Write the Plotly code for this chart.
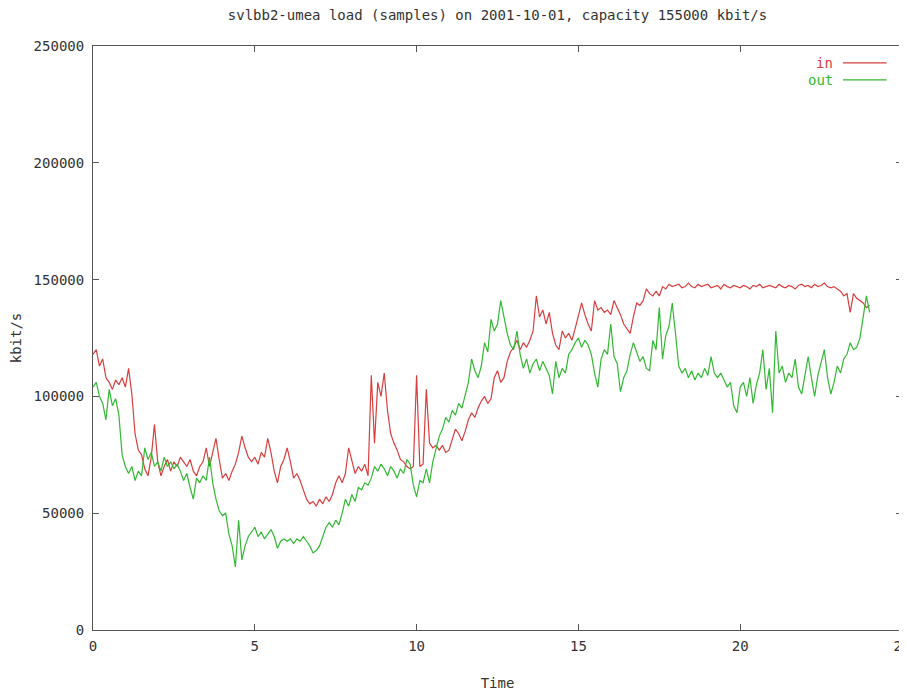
import numpy as np
import plotly.graph_objects as go

# Time axis: samples every 0.1 h from 0 to 24 h
hours = np.round(np.arange(0, 24.05, 0.1), 1)

load_in = [
    118000, 120000, 113000, 116000, 108000, 106000, 103000, 107000, 105000, 108000,
    104000, 112000, 101000, 84000, 77000, 75000, 69000, 66000, 74000, 88000,
    72000, 66000, 70000, 73000, 68000, 72000, 70000, 74000, 72000, 70000,
    73000, 68000, 66000, 70000, 72000, 78000, 70000, 76000, 82000, 73000,
    65000, 67000, 64000, 68000, 71000, 76000, 83000, 78000, 74000, 72000,
    74000, 71000, 76000, 74000, 82000, 76000, 68000, 63000, 70000, 73000,
    78000, 72000, 65000, 67000, 64000, 60000, 56000, 54000, 55000, 53000,
    56000, 54000, 57000, 55000, 58000, 63000, 66000, 63000, 67000, 78000,
    72000, 67000, 70000, 68000, 71000, 66000, 109000, 80000, 106000, 100000,
    110000, 94000, 84000, 80000, 77000, 73000, 72000, 70000, 69000, 70000,
    109000, 70000, 71000, 103000, 80000, 78000, 79000, 77000, 79000, 76000,
    77000, 82000, 86000, 84000, 81000, 85000, 90000, 93000, 91000, 95000,
    98000, 100000, 97000, 99000, 108000, 111000, 106000, 108000, 115000, 119000,
    121000, 124000, 120000, 123000, 121000, 124000, 128000, 143000, 134000, 137000,
    131000, 136000, 127000, 122000, 120000, 128000, 125000, 127000, 124000, 129000,
    134000, 140000, 135000, 131000, 128000, 141000, 137000, 138000, 136000, 137000,
    135000, 141000, 138000, 135000, 131000, 129000, 127000, 134000, 140000, 139000,
    141000, 146000, 144000, 143000, 145000, 143000, 147000, 146000, 148000, 147000,
    147500, 148000, 146500, 147000, 148500, 147000, 146500, 148000, 147000, 147500,
    148000, 146500, 147000, 147500, 146000, 148000, 147000, 146500, 147500, 147000,
    146500, 147500, 147000, 146000, 147500, 147000, 148000, 146500, 147000, 147500,
    147000, 146500, 148000, 147000, 146500, 147500, 147000, 146000, 147500, 148000,
    147000, 147500, 146500, 148000, 147000, 147500, 148500, 147000, 146500, 147000,
    146000, 145000, 143000, 144000, 136000, 144000, 142000, 141000, 140000, 138000,
    139000,
]

load_out = [
    104000, 106000, 100000, 97000, 90000, 103000, 96000, 99000, 92000, 75000,
    70000, 67000, 70000, 64000, 68000, 66000, 78000, 73000, 76000, 70000,
    72000, 68000, 74000, 70000, 72000, 69000, 71000, 68000, 64000, 67000,
    61000, 56000, 65000, 63000, 66000, 64000, 74000, 63000, 56000, 51000,
    49000, 50000, 41000, 36000, 27000, 47000, 30000, 36000, 40000, 42000,
    44000, 40000, 42000, 39000, 41000, 43000, 40000, 35000, 38000, 39000,
    38000, 39000, 37000, 39000, 38000, 40000, 38000, 36000, 33000, 34000,
    36000, 40000, 44000, 46000, 44000, 47000, 45000, 50000, 56000, 53000,
    58000, 55000, 61000, 60000, 63000, 62000, 65000, 70000, 68000, 71000,
    69000, 66000, 70000, 68000, 65000, 69000, 67000, 73000, 71000, 62000,
    57000, 64000, 63000, 69000, 63000, 72000, 78000, 83000, 86000, 91000,
    89000, 94000, 92000, 97000, 95000, 101000, 106000, 116000, 111000, 108000,
    113000, 123000, 119000, 133000, 128000, 131000, 141000, 134000, 127000, 122000,
    120000, 128000, 118000, 112000, 116000, 110000, 114000, 116000, 111000, 115000,
    112000, 109000, 101000, 115000, 108000, 112000, 110000, 118000, 120000, 123000,
    125000, 121000, 124000, 122000, 118000, 110000, 104000, 116000, 120000, 118000,
    131000, 117000, 114000, 102000, 108000, 111000, 118000, 123000, 119000, 115000,
    117000, 112000, 111000, 124000, 120000, 138000, 116000, 126000, 130000, 140000,
    127000, 113000, 110000, 112000, 108000, 111000, 107000, 110000, 108000, 112000,
    109000, 117000, 110000, 108000, 110000, 107000, 104000, 106000, 96000, 93000,
    104000, 106000, 100000, 108000, 97000, 105000, 110000, 120000, 103000, 112000,
    93000, 128000, 110000, 113000, 106000, 110000, 108000, 116000, 104000, 101000,
    110000, 117000, 108000, 100000, 109000, 114000, 120000, 108000, 101000, 106000,
    113000, 110000, 116000, 118000, 123000, 120000, 121000, 125000, 134000, 143000,
    136000,
]

x_ticks = [0, 5, 10, 15, 20, 25]
y_ticks = [0, 50000, 100000, 150000, 200000, 250000]

RED = "#d83e3e"
GREEN = "#33b833"
FONT = "DejaVu Sans Mono"
TXT = "#333333"
AX = "#555555"
FS = 14

fig = go.Figure()
fig.add_trace(go.Scatter(x=hours, y=load_in, mode="lines", name="in",
                         line=dict(color=RED, width=1.2), showlegend=False))
fig.add_trace(go.Scatter(x=hours, y=load_out, mode="lines", name="out",
                         line=dict(color=GREEN, width=1.2), showlegend=False))

axis_common = dict(showline=True, linecolor=AX, linewidth=1, mirror="allticks",
                   ticks="inside", ticklen=6, tickcolor=AX, showgrid=False,
                   zeroline=False, ticklabeloverflow="allow", automargin=False,
                   tickfont=dict(family=FONT, size=FS, color=TXT))

fig.update_xaxes(range=[0, 25], tickvals=x_ticks, ticktext=[str(v) for v in x_ticks],
                 ticklabelstandoff=3,
                 title=dict(text="Time", font=dict(family=FONT, size=FS, color=TXT), standoff=26),
                 **axis_common)
fig.update_yaxes(range=[0, 250000], tickvals=y_ticks, ticktext=[str(v) for v in y_ticks],
                 ticklabelstandoff=5,
                 title=dict(text="kbit/s", font=dict(family=FONT, size=FS, color=TXT), standoff=16),
                 **axis_common)

# gnuplot-style key: text right-aligned, line sample to the right
key = [("in", RED, 0.971), ("out", GREEN, 0.942)]
for label, col, yy in key:
    fig.add_annotation(x=0.917, y=yy, xref="paper", yref="paper", text=label,
                       showarrow=False, xanchor="right", yanchor="middle",
                       font=dict(family=FONT, size=FS, color=col))
    fig.add_shape(type="line", xref="paper", yref="paper", x0=0.927, x1=0.981,
                  y0=yy, y1=yy, line=dict(color=col, width=1.2))

fig.update_layout(
    width=899, height=683,
    margin=dict(l=85, r=5, t=38, b=61, autoexpand=False),
    paper_bgcolor="white", plot_bgcolor="white",
    title=dict(text="svlbb2-umea load (samples) on 2001-10-01, capacity 155000 kbit/s",
               x=0.5, xref="paper", y=0.99, yanchor="middle",
               font=dict(family=FONT, size=FS, color=TXT)),
)

fig.write_html("out.html")
